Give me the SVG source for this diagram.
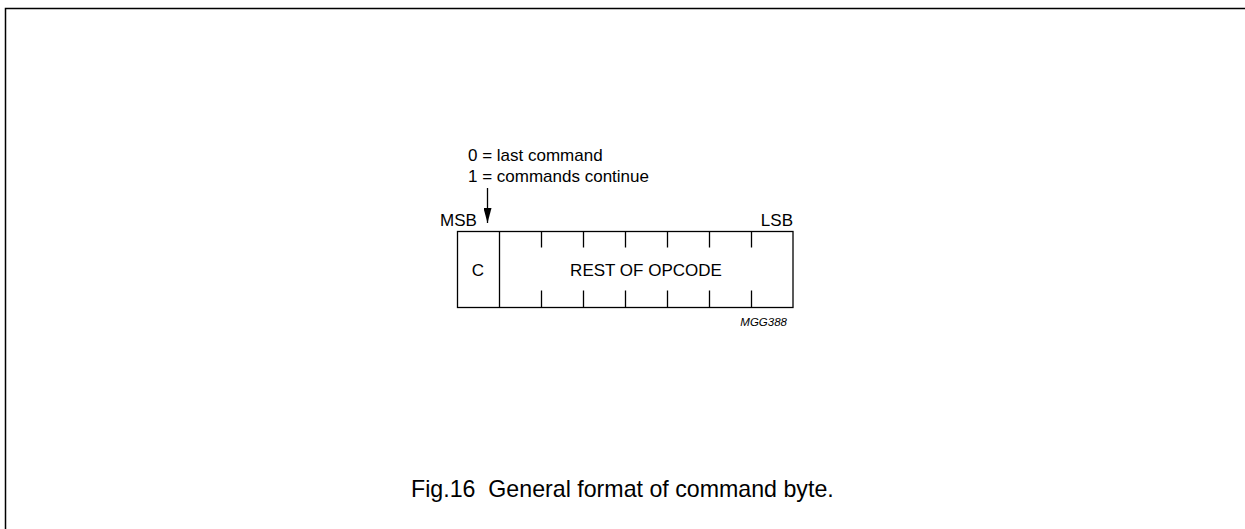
<svg xmlns="http://www.w3.org/2000/svg" width="1245" height="529" viewBox="0 0 1245 529">
<style>
text{font-family:"Liberation Sans",Arial,sans-serif;fill:#000}
.t{font-size:17px}
.ln{stroke:#000;stroke-width:1.3;fill:none}
</style>
<defs><marker id="ah" markerWidth="16" markerHeight="8" refX="15" refY="4" orient="auto" markerUnits="userSpaceOnUse"><path d="M0,0 L15,4 L0,8 Z" fill="#000"/></marker></defs>
<rect x="5.5" y="8.5" width="1250" height="540" fill="none" stroke="#000" stroke-width="1.5"/>
<g id="labels">
<text class="t" x="468" y="161">0 = last command</text>
<text class="t" x="468" y="182">1 = commands continue</text>
<text class="t" x="440" y="226">MSB</text>
<text class="t" x="793" y="226" text-anchor="end">LSB</text>
</g>
<g id="byte">
<rect class="ln" x="457.5" y="231.5" width="335.5" height="76"/>
<line class="ln" x1="499.5" y1="231.5" x2="499.5" y2="307.5"/>
<path class="ln" d="M541.5,231.5V247.5M583.5,231.5V247.5M625.5,231.5V247.5M667.5,231.5V247.5M709.5,231.5V247.5M751.5,231.5V247.5M541.5,290.5V307.5M583.5,290.5V307.5M625.5,290.5V307.5M667.5,290.5V307.5M709.5,290.5V307.5M751.5,290.5V307.5"/>
<text class="t" x="478" y="276" text-anchor="middle">C</text>
<text class="t" x="646" y="276" text-anchor="middle">REST OF OPCODE</text>
</g>
<g id="connectors">
<line class="ln" x1="487.5" y1="188" x2="487.5" y2="223" marker-end="url(#ah)"/>
</g>
<text x="787" y="326" font-size="11.5" font-style="italic" text-anchor="end">MGG388</text>
<text x="411" y="497" font-size="23.2" xml:space="preserve" style="white-space:pre">Fig.16  General format of command byte.</text>
</svg>
